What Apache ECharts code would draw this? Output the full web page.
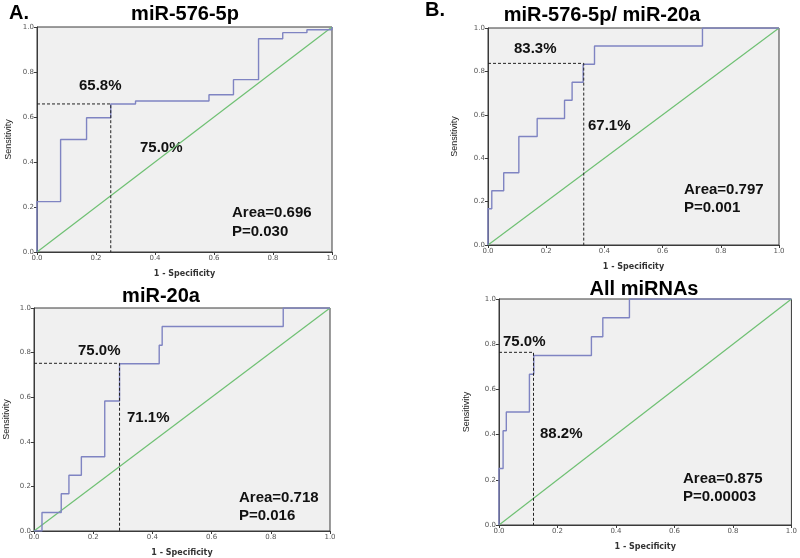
<!DOCTYPE html>
<html>
<head>
<meta charset="utf-8">
<script src="https://cdn.jsdelivr.net/npm/echarts@6/dist/echarts.min.js"></script>
<style>
  html, body { margin: 0; padding: 0; background: #fff; }
  #chart { width: 800px; height: 558px; }
</style>
</head>
<body>
<div id="chart"></div>
<script>
// ROC points (1 - specificity, sensitivity)
const fprA = [0, 0, 0.080, 0.168, 0.250, 0.334, 0.583, 0.666, 0.751, 0.833, 0.915, 1.0]
const tprA = [0, 0.224, 0.500, 0.597, 0.658, 0.671, 0.699, 0.766, 0.948, 0.975, 0.988, 1.0]

const fprB = [0, 0, 0.013, 0.054, 0.106, 0.169, 0.263, 0.289, 0.327, 0.366, 0.737, 1.0]
const tprB = [0, 0.167, 0.250, 0.333, 0.500, 0.583, 0.667, 0.750, 0.833, 0.917, 1.0, 1.0]

const fprC = [0, 0.027, 0.092, 0.118, 0.160, 0.239, 0.289, 0.423, 0.433, 0.842, 1.0]
const tprC = [0, 0.083, 0.167, 0.250, 0.333, 0.583, 0.750, 0.833, 0.917, 1.0, 1.0]

const fprD = [0, 0, 0.014, 0.025, 0.104, 0.119, 0.316, 0.355, 0.446, 1.0]
const tprD = [0, 0.250, 0.417, 0.500, 0.667, 0.750, 0.833, 0.917, 1.0, 1.0]

// cut-off point per panel: [1 - specificity, sensitivity]
const cutA = [0.250, 0.658]
const cutB = [0.329, 0.837]
const cutC = [0.289, 0.752]
const cutD = [0.118, 0.764]

const titles = ["miR-576-5p", "miR-576-5p/ miR-20a", "miR-20a", "All miRNAs"]
const sensLabels = ["65.8%", "83.3%", "75.0%", "75.0%"]
const specLabels = ["75.0%", "67.1%", "71.1%", "88.2%"]
const areas = ["Area=0.696", "Area=0.797", "Area=0.718", "Area=0.875"]
const pvals = ["P=0.030", "P=0.001", "P=0.016", "P=0.00003"]

const rocX = [fprA, fprB, fprC, fprD]
const rocY = [tprA, tprB, tprC, tprD]
const cuts = [cutA, cutB, cutC, cutD]

// layout of each panel (pixels)
const panels = [
  { grid: { left: 37, top: 27, width: 295, height: 225 }, yGap: 24, title: [185, 14],
    sens: [79, 86], spec: [140, 148], area: [232, 213], p: [232, 232] },
  { grid: { left: 488, top: 28, width: 291, height: 217 }, yGap: 29, title: [602, 15],
    sens: [514, 49], spec: [588, 126], area: [684, 190], p: [684, 208] },
  { grid: { left: 34, top: 308, width: 296, height: 225 }, yGap: 23, title: [161, 296],
    sens: [78, 351], spec: [127, 418], area: [239, 498], p: [239, 516] },
  { grid: { left: 499, top: 299, width: 295, height: 226 }, yGap: 28, title: [644, 289],
    sens: [503, 342], spec: [540, 434], area: [683, 479], p: [683, 497] },
]

const chart = echarts.init(document.getElementById("chart"))

const tickLabel = { color: "#555", fontSize: 7, fontFamily: "DejaVu Sans", margin: 3,
  formatter: (v) => v.toFixed(1) }

const grids = [], xAxes = [], yAxes = [], series = [], graphics = []

panels.forEach((p, i) => {
  grids.push(Object.assign({ show: true, backgroundColor: "#f0f0f0",
    borderColor: "#3a3a3a", borderWidth: 1 }, p.grid))

  xAxes.push({
    gridIndex: i, type: "value", min: 0, max: 1, interval: 0.2,
    name: "1 - Specificity", nameLocation: "middle", nameGap: 18,
    nameTextStyle: { fontSize: 8, fontWeight: "bold", color: "#333", fontFamily: "DejaVu Sans" },
    axisLine: { lineStyle: { color: "#3a3a3a" } },
    axisTick: { length: 3, lineStyle: { color: "#3a3a3a" } },
    axisLabel: tickLabel,
    splitLine: { show: false },
  })
  yAxes.push({
    gridIndex: i, type: "value", min: 0, max: 1, interval: 0.2,
    name: "Sensitivity", nameLocation: "middle", nameGap: p.yGap,
    nameTextStyle: { fontSize: 9, color: "#222", fontFamily: "Liberation Sans" },
    axisLine: { lineStyle: { color: "#3a3a3a" } },
    axisTick: { length: 3, lineStyle: { color: "#3a3a3a" } },
    axisLabel: tickLabel,
    splitLine: { show: false },
  })

  // reference diagonal
  series.push({
    type: "line", xAxisIndex: i, yAxisIndex: i, showSymbol: false, silent: true,
    data: [[0, 0], [1, 1]],
    lineStyle: { color: "#6fc073", width: 1.2 },
  })
  // ROC step curve
  series.push({
    type: "line", xAxisIndex: i, yAxisIndex: i, showSymbol: false, step: "end",
    data: rocX[i].map((x, k) => [x, rocY[i][k]]),
    lineStyle: { color: "#7f84c2", width: 1.4 },
  })
  // cut-off guide lines
  const c = cuts[i]
  series.push({
    type: "line", xAxisIndex: i, yAxisIndex: i, showSymbol: false,
    data: [[0, c[1]], [c[0], c[1]], [c[0], 0]],
    lineStyle: { color: "#222", width: 1, type: [3, 2] },
    z: 3,
  })

  const bold = (size) => `bold ${size}px "Liberation Sans", Arial, sans-serif`
  graphics.push({ type: "text", x: p.title[0], y: p.title[1],
    style: { text: titles[i], font: bold(20), fill: "#000", textAlign: "center", textVerticalAlign: "middle" } })
  graphics.push({ type: "text", x: p.sens[0], y: p.sens[1],
    style: { text: sensLabels[i], font: bold(15), fill: "#111", textVerticalAlign: "middle" } })
  graphics.push({ type: "text", x: p.spec[0], y: p.spec[1],
    style: { text: specLabels[i], font: bold(15), fill: "#111", textVerticalAlign: "middle" } })
  graphics.push({ type: "text", x: p.area[0], y: p.area[1],
    style: { text: areas[i], font: bold(15), fill: "#111", textVerticalAlign: "middle" } })
  graphics.push({ type: "text", x: p.p[0], y: p.p[1],
    style: { text: pvals[i], font: bold(15), fill: "#111", textVerticalAlign: "middle" } })
})

// panel letters
graphics.push({ type: "text", x: 9, y: 13,
  style: { text: "A.", font: 'bold 20px "Liberation Sans", Arial, sans-serif', fill: "#000", textVerticalAlign: "middle" } })
graphics.push({ type: "text", x: 425, y: 10,
  style: { text: "B.", font: 'bold 20px "Liberation Sans", Arial, sans-serif', fill: "#000", textVerticalAlign: "middle" } })

chart.setOption({
  backgroundColor: "#fff",
  animation: false,
  grid: grids,
  xAxis: xAxes,
  yAxis: yAxes,
  series: series,
  graphic: graphics,
})
</script>
</body>
</html>
